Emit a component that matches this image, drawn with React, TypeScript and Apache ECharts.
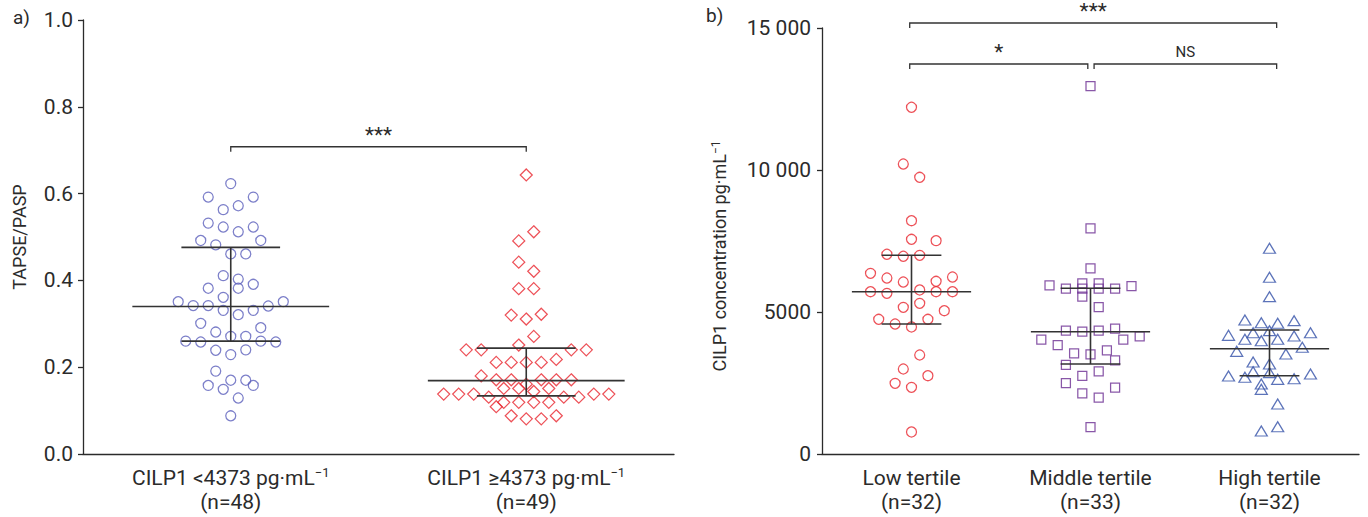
import React, { useEffect, useRef } from 'react';
import * as echarts from 'echarts';

const FONT = 'Roboto, "DejaVu Sans", sans-serif';
const INK = '#2b2b2b';

// ---------- Panel a ----------
const aGroupNames = ['CILP1 <4373', 'CILP1 \u22654373'];
const aGroupN = [48, 49];
const aLowValues = [
  0.623, 0.592, 0.592, 0.563, 0.572, 0.532, 0.523, 0.512, 0.523, 0.492,
  0.482, 0.492, 0.461, 0.461, 0.411, 0.403, 0.382, 0.391, 0.382, 0.361,
  0.351, 0.342, 0.342, 0.331, 0.321, 0.331, 0.341, 0.351, 0.301, 0.291,
  0.281, 0.271, 0.271, 0.26, 0.258, 0.26, 0.258, 0.239, 0.229, 0.24,
  0.191, 0.158, 0.17, 0.17, 0.149, 0.158, 0.129, 0.088,
];
const aLowSlots = [
  0, -1.5, 1.5, -0.5, 0.5, -1.5, -0.5, 0.5, 1.5, -2,
  -1, 2, 0, 1, -0.5, 0.5, 0.5, 1.5, -1.5, -0.5,
  -3.5, -2.5, -1.5, -0.5, 0.5, 1.5, 2.5, 3.5, -2, 2,
  -1, 0, 1, -3, -2, 2, 3, -1, 0, 1,
  -1, -1.5, 0, 1, -0.5, 1.5, 0.5, 0,
];
const aHighValues = [
  0.643, 0.512, 0.491, 0.442, 0.421, 0.381, 0.381, 0.32, 0.311, 0.322,
  0.271, 0.24, 0.24, 0.251, 0.24, 0.24, 0.211, 0.211, 0.211, 0.211,
  0.218, 0.18, 0.171, 0.171, 0.161, 0.171, 0.171, 0.171, 0.151, 0.151,
  0.144, 0.151, 0.138, 0.138, 0.138, 0.131, 0.131, 0.131, 0.138, 0.138,
  0.109, 0.119, 0.119, 0.119, 0.119, 0.088, 0.081, 0.081, 0.088,
];
const aHighSlots = [
  0, 0.5, -0.5, -0.5, 0.5, -0.5, 0.5, -1, 0, 1,
  0.5, -4, -3, -0.5, 3, 4, -2, -1, 0, 1,
  2, -3, -2, -1, 0, 1, 2, 3, -1.5, -0.5,
  0.5, 1.5, -5.5, -4.5, -3.5, -2.5, 2.5, 3.5, 4.5, 5.5,
  -2, -1.5, -0.5, 0.5, 1.5, -1, 0, 1, 2,
];
const aMedian = [0.34, 0.169];
const aQ1 = [0.26, 0.134];
const aQ3 = [0.476, 0.244];
const aYTicks = [0, 0.2, 0.4, 0.6, 0.8, 1.0];
const aBracketFrom = [0];
const aBracketTo = [1];
const aBracketY = [0.708];
const aBracketLabels = ['***'];

// ---------- Panel b ----------
const bGroupNames = ['Low tertile', 'Middle tertile', 'High tertile'];
const bGroupN = [32, 33, 32];
const bLowValues = [
  12208, 10211, 9743, 8215, 7560, 7511, 7033, 6962, 6996, 6362,
  6197, 6056, 6081, 6232, 5715, 5658, 5775, 5715, 5715, 5165,
  5306, 5046, 4743, 4577, 4472, 4743, 3486, 2993, 2757, 2489,
  2348, 775,
];
const bLowSlots = [
  0, -0.5, 0.5, 0, 0, 1.5, -1.5, -0.5, 0.5, -2.5,
  -1.5, -0.5, 1.5, 2.5, -2.5, -1.5, 0.5, 1.5, 2.5, -0.5,
  0.5, 2, -2, -1, 0, 1, 0.5, -0.5, 1, -1,
  0, 0,
];
const bMidValues = [
  12957, 7947, 6539, 5940, 5820, 6010, 5820, 6010, 5820, 5820,
  5915, 5539, 5176, 4025, 3838, 4342, 4306, 4342, 4412, 4025,
  4144, 3546, 3511, 3651, 3299, 3134, 2912, 2747, 2500, 2334,
  2137, 1982, 947,
];
const bMidSlots = [
  0, 0, 0, -2.5, -1.5, -0.5, -0.5, 0.5, 0.5, 1.5,
  2.5, -0.5, 0.5, -3, -2, -1.5, -0.5, 0.5, 1.5, 2,
  3, -1, 0, 1, 1.5, -1.5, 0.5, -0.5, -1.5, 1.5,
  -0.5, 0.5, 0,
];
const bHighValues = [
  7243, 6222, 5539, 4718, 4623, 4602, 4694, 4271, 4342, 4179,
  4039, 3989, 4039, 4155, 4271, 3616, 3757, 3521, 3239, 3169,
  2898, 2863, 2747, 2701, 2630, 2651, 2817, 2465, 2278, 1761,
  810, 961,
];
const bHighSlots = [
  0, 0, 0, -1.5, -0.5, 0.5, 1.5, -1, 0, -2.5,
  -1.5, -0.5, 0.5, 1.5, 2.5, -2, 2, 1, -1, 0,
  -1, 0, -2.5, -1.5, 0.5, 1.5, 2.5, -0.5, -0.5, 0.5,
  -0.5, 0.5,
];
const bMedian = [5715, 4306, 3708];
const bQ1 = [4577, 3169, 2757];
const bQ3 = [6996, 5834, 4366];
const bYTicks = [0, 5000, 10000, 15000];
const bBracketFrom = [-0.01, -0.01, 1.02];
const bBracketTo = [2.04, 0.985, 2.04];
const bBracketY = [15176, 13732, 13732];
const bBracketLabels = ['***', '*', 'NS'];
const bAxisName = 'CILP1 concentration pg\u00b7mL{sup|\u22121}';

// swarm slot width, in category units
const A_STEP = 0.0508;
const B_STEP = 0.0916;

const COL_BLUE = '#5b5fbb';
const COL_RED = '#e8262e';
const COL_PURPLE = '#6b2d92';
const COL_TRI = '#3350a8';

const LABEL_SIZE = 21;

const swarm = (group: number, values: number[], slots: number[], step: number) =>
  values.map((v, i) => [group + slots[i] * step, v]);

const supRich = { sup: { fontSize: 13, verticalAlign: 'top', lineHeight: 14, fontFamily: FONT, color: INK } };
const supRichName = { sup: { fontSize: 12, verticalAlign: 'top', lineHeight: 13, fontFamily: FONT, fill: INK, color: INK } };

const errorBarSeries = (xi: number, yi: number, med: number[], q1: number[], q3: number[]) => ({
  type: 'custom',
  xAxisIndex: xi,
  yAxisIndex: yi,
  z: 5,
  silent: true,
  data: med.map((m, i) => [i, m, q1[i], q3[i]]),
  encode: { x: 0, y: [1, 2, 3] },
  renderItem: (params: any, api: any) => {
    const x = api.value(0);
    const pm = api.coord([x, api.value(1)]);
    const p1 = api.coord([x, api.value(2)]);
    const p3 = api.coord([x, api.value(3)]);
    const w = api.size([1, 0])[0];
    const mh = w * 0.333;
    const ih = w * 0.167;
    const style = { stroke: '#333', lineWidth: 1.6 };
    return {
      type: 'group',
      children: [
        { type: 'line', shape: { x1: pm[0] - mh, y1: pm[1], x2: pm[0] + mh, y2: pm[1] }, style },
        { type: 'line', shape: { x1: p3[0] - ih, y1: p3[1], x2: p3[0] + ih, y2: p3[1] }, style },
        { type: 'line', shape: { x1: p1[0] - ih, y1: p1[1], x2: p1[0] + ih, y2: p1[1] }, style },
        { type: 'line', shape: { x1: p1[0], y1: p1[1], x2: p3[0], y2: p3[1] }, style },
      ],
    };
  },
});

const bracketSeries = (xi: number, yi: number, from: number[], to: number[], ys: number[], labels: string[]) => ({
  type: 'custom',
  xAxisIndex: xi,
  yAxisIndex: yi,
  z: 5,
  clip: false,
  silent: true,
  data: from.map((f, i) => [f, to[i], ys[i]]),
  encode: { x: [0, 1], y: 2 },
  renderItem: (params: any, api: any) => {
    const a = api.coord([api.value(0), api.value(2)]);
    const b = api.coord([api.value(1), api.value(2)]);
    const label = labels[params.dataIndex];
    const isNS = label === 'NS';
    return {
      type: 'group',
      children: [
        {
          type: 'polyline',
          shape: { points: [[a[0], a[1] + 5], [a[0], a[1]], [b[0], b[1]], [b[0], b[1] + 5]] },
          style: { stroke: '#333', lineWidth: 1.3, fill: 'none' },
        },
        {
          type: 'text',
          x: (a[0] + b[0]) / 2,
          y: a[1] - 12,
          style: {
            text: label,
            fontSize: isNS ? 15 : 21,
            fontFamily: FONT,
            fill: INK,
            align: 'center',
            verticalAlign: 'middle',
          },
        },
      ],
    };
  },
});

const scatter = (xi: number, yi: number, data: number[][], symbol: string, size: any, color: string) => ({
  type: 'scatter',
  xAxisIndex: xi,
  yAxisIndex: yi,
  symbol,
  symbolSize: size,
  z: 3,
  data,
  itemStyle: { color: 'rgba(255,255,255,0)', borderColor: color, borderWidth: 1.25 },
});

const axisLineStyle = { color: INK, width: 1.3 };

const fmtThousands = (v: number) => {
  if (v < 10000) return String(v);
  const k = Math.floor(v / 1000);
  const r = String(v % 1000).padStart(3, '0');
  return `${k} ${r}`;
};

export default function App() {
  const ref = useRef<HTMLDivElement>(null);
  useEffect(() => {
    if (!ref.current) return;
    const chart = echarts.init(ref.current, undefined, { renderer: 'svg' });
    const option: any = {
      animation: false,
      backgroundColor: '#ffffff',
      textStyle: { fontFamily: FONT },
      grid: [
        { left: 83, top: 20, width: 591, height: 434 },
        { left: 822, top: 28, width: 537, height: 426 },
      ],
      xAxis: [
        {
          type: 'category',
          gridIndex: 0,
          data: aGroupNames,
          boundaryGap: true,
          axisLine: { onZero: false, lineStyle: axisLineStyle },
          axisTick: { alignWithLabel: true, length: 6, lineStyle: axisLineStyle },
          axisLabel: {
            interval: 0,
            color: INK,
            fontSize: LABEL_SIZE,
            fontFamily: FONT,
            lineHeight: 24,
            margin: 12,
            formatter: (v: string, i: number) => `${v} pg\u00b7mL{sup|\u22121}\n(n=${aGroupN[i]})`,
            rich: supRich,
          },
        },
        { type: 'value', gridIndex: 0, min: -0.5, max: 1.5, show: false },
        {
          type: 'category',
          gridIndex: 1,
          data: bGroupNames,
          boundaryGap: true,
          axisLine: { onZero: false, lineStyle: axisLineStyle },
          axisTick: { alignWithLabel: true, length: 6, lineStyle: axisLineStyle },
          axisLabel: {
            interval: 0,
            color: INK,
            fontSize: LABEL_SIZE,
            fontFamily: FONT,
            lineHeight: 24,
            margin: 12,
            formatter: (v: string, i: number) => `${v}\n(n=${bGroupN[i]})`,
          },
        },
        { type: 'value', gridIndex: 1, min: -0.5, max: 2.5, show: false },
      ],
      yAxis: [
        {
          type: 'value',
          gridIndex: 0,
          min: aYTicks[0],
          max: aYTicks[aYTicks.length - 1],
          interval: 0.2,
          axisLine: { show: true, onZero: false, lineStyle: axisLineStyle },
          axisTick: { show: true, length: 5, lineStyle: axisLineStyle },
          splitLine: { show: false },
          axisLabel: { color: INK, fontSize: LABEL_SIZE, fontFamily: FONT, margin: 10, formatter: (v: number) => v.toFixed(1) },
          name: 'TAPSE/PASP',
          nameLocation: 'middle',
          nameGap: 55,
          nameTextStyle: { color: INK, fontSize: 18, fontFamily: FONT },
        },
        {
          type: 'value',
          gridIndex: 1,
          min: bYTicks[0],
          max: bYTicks[bYTicks.length - 1],
          interval: 5000,
          axisLine: { show: true, onZero: false, lineStyle: axisLineStyle },
          axisTick: { show: true, length: 5, lineStyle: axisLineStyle },
          splitLine: { show: false },
          axisLabel: { color: INK, fontSize: LABEL_SIZE, fontFamily: FONT, margin: 11, formatter: fmtThousands },
        },
      ],
      graphic: [
        { type: 'text', left: 13, top: 8, style: { text: 'a)', fontSize: 19, fontFamily: FONT, fill: INK } },
        { type: 'text', left: 706, top: 6, style: { text: 'b)', fontSize: 19, fontFamily: FONT, fill: INK } },
        {
          type: 'text',
          x: 719,
          y: 256,
          rotation: Math.PI / 2,
          style: {
            text: bAxisName,
            rich: supRichName,
            fontSize: 18,
            fontFamily: FONT,
            fill: INK,
            align: 'center',
            verticalAlign: 'middle',
          },
        },
      ],
      series: [
        scatter(1, 0, swarm(0, aLowValues, aLowSlots, A_STEP), 'circle', 10, COL_BLUE),
        scatter(1, 0, swarm(1, aHighValues, aHighSlots, A_STEP), 'diamond', 12, COL_RED),
        errorBarSeries(1, 0, aMedian, aQ1, aQ3),
        bracketSeries(1, 0, aBracketFrom, aBracketTo, aBracketY, aBracketLabels),
        scatter(3, 1, swarm(0, bLowValues, bLowSlots, B_STEP), 'circle', 10, COL_RED),
        scatter(3, 1, swarm(1, bMidValues, bMidSlots, B_STEP), 'rect', 9, COL_PURPLE),
        scatter(3, 1, swarm(2, bHighValues, bHighSlots, B_STEP), 'triangle', [12, 10], COL_TRI),
        errorBarSeries(3, 1, bMedian, bQ1, bQ3),
        bracketSeries(3, 1, bBracketFrom, bBracketTo, bBracketY, bBracketLabels),
      ],
    };
    chart.setOption(option);
    return () => chart.dispose();
  }, []);
  return (
    <div
      ref={ref}
      style={{ position: 'fixed', left: 0, top: 0, width: 1368, height: 517, background: '#fff' }}
    />
  );
}
